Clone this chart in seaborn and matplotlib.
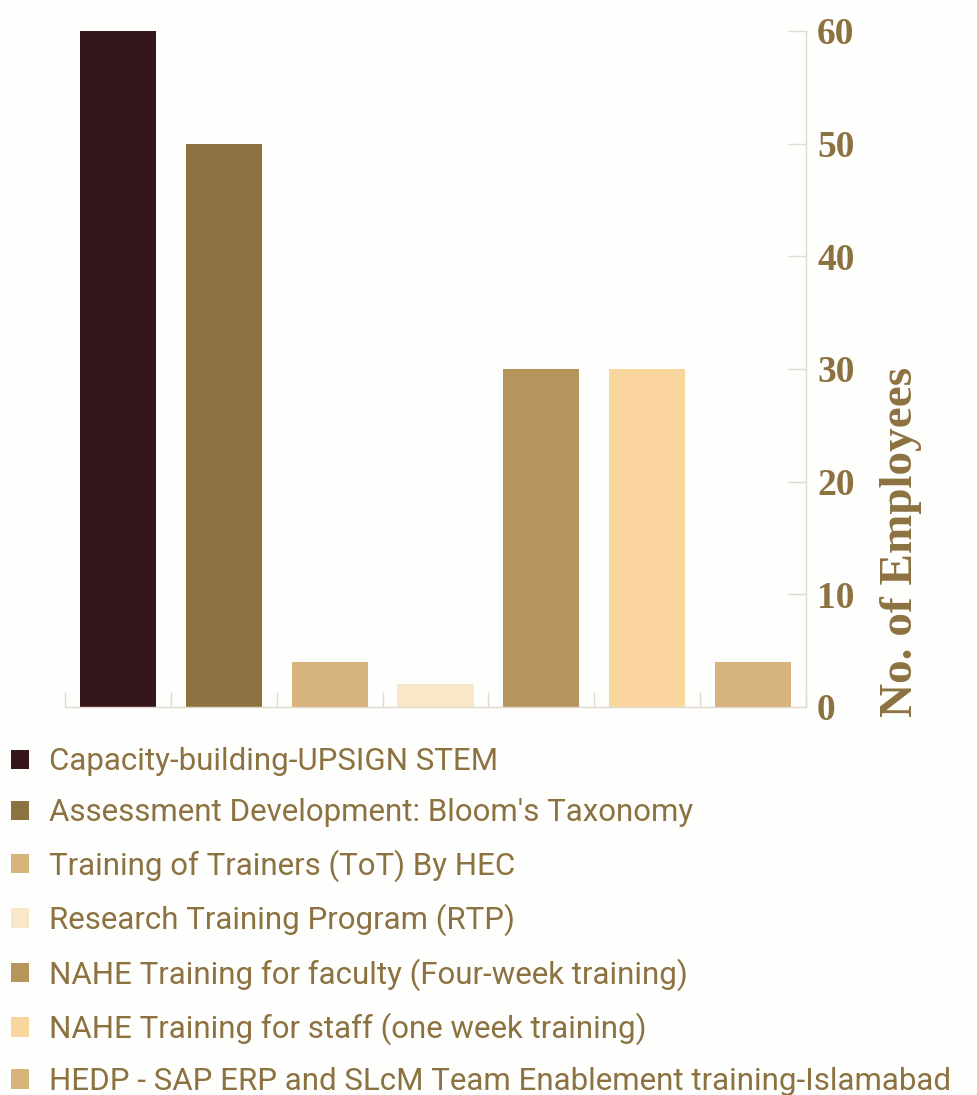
import numpy as np
import pandas as pd
import matplotlib.pyplot as plt
from matplotlib.patches import Patch
import seaborn as sns

# training programmes and employees trained
programs = [
    "Capacity-building-UPSIGN STEM",
    "Assessment Development: Bloom's Taxonomy",
    "Training of Trainers (ToT) By HEC",
    "Research Training Program (RTP)",
    "NAHE Training for faculty (Four-week training)",
    "NAHE Training for staff (one week training)",
    "HEDP - SAP ERP and SLcM Team Enablement training-Islamabad",
]
employees = [60, 50, 4, 2, 30, 30, 4]
colors = ["#35161A", "#8C7240", "#D6B47C", "#F8E7C8", "#B5955C", "#FAD69E", "#D6B47C"]
y_ticks = [0, 10, 20, 30, 40, 50, 60]

df = pd.DataFrame({"program": programs, "employees": employees})

txt = "#8C7240"
grid = "#E3DACB"

sns.set_style("white")
plt.rcParams["font.family"] = ["Roboto", "DejaVu Sans"]

fig = plt.figure(figsize=(9.78, 10.95), dpi=100)
fig.patch.set_facecolor("#FEFEFD")
ax = fig.add_axes([65 / 978, 1 - 707 / 1095, (806 - 65) / 978, (707 - 31) / 1095])
ax.set_facecolor("#FEFEFD")

sns.barplot(data=df, x="program", y="employees", hue="program",
            palette=colors, legend=False, width=0.72, ax=ax, saturation=1,
            edgecolor="none", linewidth=0)

ax.set_ylim(0, 60)
ax.set_xlim(-0.5, len(programs) - 0.5)
ax.set_yticks(y_ticks)

# y axis on the right
sns.despine(ax=ax, left=True, top=True, right=False, bottom=False)
ax.yaxis.tick_right()
ax.yaxis.set_label_position("right")
for s in ["right", "bottom"]:
    ax.spines[s].set_color(grid)
    ax.spines[s].set_linewidth(1)
ax.tick_params(axis="y", direction="in", length=13, width=1, color=grid,
               pad=8, labelcolor=txt, right=True, left=False)
for lab in ax.get_yticklabels():
    lab.set_fontfamily("Liberation Serif")
    lab.set_fontweight("bold")
    lab.set_fontsize(27)
ax.set_ylabel("No. of Employees", fontsize=34, color=txt, family="Liberation Serif",
              fontweight="bold", loc="bottom", rotation=90, labelpad=18)
ax.yaxis.label.set_y(-0.015)

# category separators on the x axis
ax.set_xticks(np.arange(len(programs) + 1) - 0.5, minor=True)
ax.set_xticks([])
ax.set_xlabel("")
ax.tick_params(axis="x", which="minor", direction="in", length=11, width=1,
               color=grid, bottom=True)

handles = [Patch(facecolor=c, edgecolor="none") for c in colors]
fig.legend(handles, programs, loc="upper left", bbox_to_anchor=(0.002, 1 - 738 / 1095),
           frameon=False, fontsize=22.5, labelcolor=txt, handlelength=0.58,
           handleheight=0.58, handletextpad=0.64, labelspacing=0.70,
           borderaxespad=0, borderpad=0.3)

fig.savefig("out.png", dpi=100, facecolor=fig.get_facecolor())
